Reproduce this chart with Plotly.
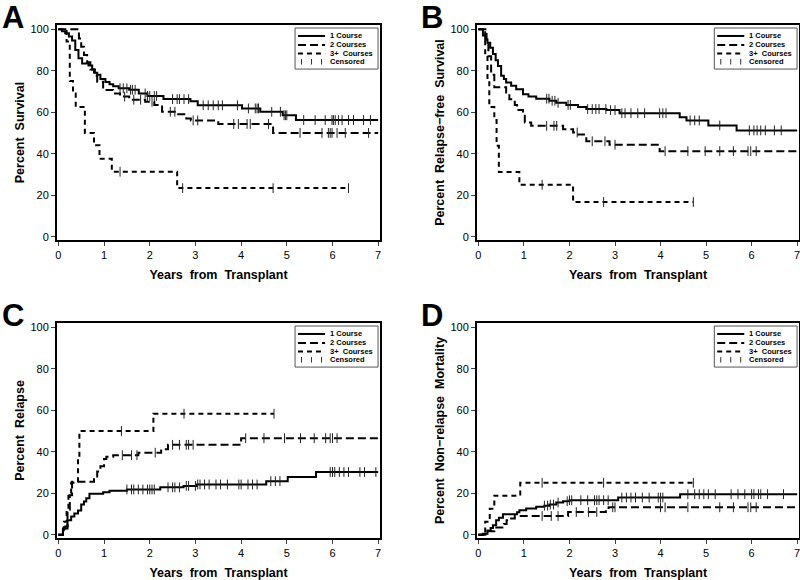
import numpy as np
import plotly.graph_objects as go

# ---- Panel A: overall survival ----
a1_t = [0, 0.08, 0.15, 0.23, 0.30, 0.37, 0.44, 0.52, 0.66, 0.74, 0.80, 0.85, 0.92, 1.03, 1.12, 1.20, 1.32,
        1.55, 1.76, 1.95, 2.30, 2.89, 3.05, 4.02, 4.42, 4.91, 5.20, 7.0]
a1_v = [100, 99, 98, 96.5, 94.5, 90, 86, 83.5, 82.5, 80.5, 79, 78, 76, 74.5, 73.5, 72.5, 71.5,
        70.8, 69, 67.8, 66.3, 65.2, 63.3, 61.8, 60.2, 58.5, 56.2, 56.2]
a1_c = [1.35, 1.42, 1.5, 1.58, 1.62, 1.68, 1.9, 1.95, 2.0, 2.1, 2.15, 2.5, 2.6, 2.65, 2.75, 2.85, 3.17, 3.28,
        3.39, 3.5, 3.59, 3.92, 4.16, 4.31, 4.35, 4.38, 4.67, 4.86, 4.94, 4.97, 5.0, 5.37, 5.62, 5.84, 5.99,
        6.02, 6.06, 6.13, 6.21, 6.35, 6.46, 6.68, 6.83]
a2_t = [0, 0.45, 0.5, 0.56, 0.63, 0.7, 0.78, 0.85, 0.98, 1.2, 1.35, 1.55, 1.9, 2.1, 2.27, 2.6, 2.8, 2.9,
        3.5, 4.7, 7.0]
a2_v = [100, 95.5, 91.5, 87.5, 84, 80.5, 77.5, 74.7, 70.7, 69, 67.5, 66, 65, 63.5, 60.2, 59, 57, 56,
        54.3, 50, 50]
a2_c = [1.45, 1.65, 1.8, 2.05, 2.45, 2.55, 2.95, 3.05, 3.84, 3.94, 4.13, 4.2, 4.6, 5.29, 5.77, 5.91, 5.95,
        5.99, 6.1, 6.28, 6.79]
a3_t = [0, 0.18, 0.25, 0.32, 0.38, 0.58, 0.78, 0.9, 1.17, 2.6, 6.35]
a3_v = [100, 94, 75, 69, 62.5, 50, 44, 37.5, 31.3, 23.4, 23.4]
a3_c = [1.35, 2.72, 4.7, 6.35]

# ---- Panel B: relapse-free survival ----
b1_t = [0, 0.1, 0.15, 0.2, 0.26, 0.32, 0.38, 0.43, 0.5, 0.56, 0.61, 0.72, 0.83, 0.98, 1.1, 1.27, 1.56,
        1.71, 1.93, 2.19, 2.37, 2.81, 3.1, 4.42, 4.57, 5.05, 5.67, 7.0]
b1_v = [100, 97, 95, 93.5, 91, 88, 85, 82.3, 77.5, 76, 74.3, 72.7, 71, 68.6, 67.5, 66.5, 65.5,
        64.5, 63.5, 62.5, 61.5, 61, 59.5, 57.5, 56, 53.6, 51.2, 51.2]
b1_c = [1.5, 1.55, 1.62, 1.68, 1.75, 1.97, 2.02, 2.4, 2.5, 2.58, 2.65, 2.8, 2.9, 3.0, 3.15, 3.22, 3.35,
        3.5, 3.65, 3.98, 4.05, 4.12, 4.65, 4.75, 4.85, 5.3, 5.95, 6.05, 6.12, 6.2, 6.3, 6.5, 6.65]
b2_t = [0, 0.18, 0.22, 0.28, 0.35, 0.61, 0.68, 0.8, 0.85, 0.98, 1.02, 1.16, 1.86, 2.08, 2.19, 2.37, 2.88,
        3.98, 7.0]
b2_v = [100, 95, 87, 78, 72, 69.5, 66.2, 63.5, 61, 59, 55, 53.4, 51.8, 50.2, 49.2, 46, 44.3, 41.2, 41.2]
b2_c = [1.5, 1.66, 1.72, 2.17, 2.5, 2.78, 3.0, 4.1, 4.6, 4.98, 5.3, 5.6, 5.92, 5.98, 6.1]
b3_t = [0, 0.15, 0.2, 0.24, 0.35, 0.4, 0.45, 0.9, 2.08, 4.72]
b3_v = [100, 87.5, 75, 62.5, 56.2, 43.8, 31.2, 25, 16.7, 16.7]
b3_c = [1.4, 2.75, 4.72]

# ---- Panel C: relapse ----
c1_t = [0, 0.1, 0.2, 0.28, 0.35, 0.43, 0.5, 0.56, 0.61, 0.68, 0.98, 1.12, 1.5, 2.23, 2.74, 3.03, 4.55,
        5.02, 5.64, 7.0]
c1_v = [0, 3, 7, 8.8, 10.2, 11.7, 14.5, 16, 17.5, 19.7, 20.5, 21.2, 21.8, 22.8, 23.5, 24.2, 25.8,
        27.8, 30.2, 30.2]
c1_c = [1.5, 1.6, 1.65, 1.75, 1.85, 1.95, 2.0, 2.05, 2.1, 2.4, 2.5, 2.55, 2.65, 2.8, 2.85, 3.0, 3.05,
        3.1, 3.2, 3.3, 3.45, 3.55, 3.7, 3.95, 4.0, 4.15, 4.25, 4.35, 4.65, 4.75, 4.85, 5.95, 6.0, 6.05,
        6.15, 6.25, 6.35, 6.6, 6.7, 6.95]
c2_t = [0, 0.1, 0.15, 0.2, 0.25, 0.3, 0.78, 0.85, 0.92, 1.0, 1.05, 1.2, 1.75, 2.25, 2.4, 4.0, 7.0]
c2_v = [0, 1.5, 4, 12, 19, 25.5, 27.5, 30.5, 33, 36.5, 37.5, 38.3, 39.5, 41.2, 43.3, 46.5, 46.5]
c2_c = [1.4, 1.6, 1.72, 2.12, 2.5, 2.65, 2.8, 2.85, 2.95, 4.1, 4.5, 4.95, 5.3, 5.6, 5.85, 5.95, 6.0, 6.1]
c3_t = [0, 0.12, 0.18, 0.22, 0.28, 0.43, 0.46, 2.08, 4.72]
c3_v = [0, 6.2, 12.5, 18.8, 25, 37.5, 50, 58.3, 58.3]
c3_c = [1.38, 2.75, 4.72]

# ---- Panel D: non-relapse mortality ----
d1_t = [0, 0.1, 0.2, 0.27, 0.32, 0.39, 0.45, 0.54, 0.85, 0.9, 1.05, 1.27, 1.45, 1.56, 1.71, 1.86, 2.0,
        3.07, 4.43, 7.0]
d1_v = [0, 0.5, 2, 3.2, 4.5, 7, 8.2, 9.8, 10.8, 11.8, 12.6, 13.4, 14, 14.5, 15.5, 16.1, 16.6,
        17.9, 19.5, 19.5]
d1_c = [1.45, 1.52, 1.58, 1.65, 1.75, 1.95, 2.0, 2.05, 2.25, 2.4, 2.55, 2.6, 2.65, 2.75, 2.85, 3.15,
        3.25, 3.35, 3.45, 3.6, 3.75, 3.95, 4.0, 4.05, 4.6, 4.75, 4.85, 4.95, 5.05, 5.2, 5.55, 5.7, 5.85,
        6.0, 6.05, 6.15, 6.2, 6.35, 6.7]
d2_t = [0, 0.2, 0.35, 0.5, 0.56, 0.62, 0.72, 0.8, 1.97, 2.8, 2.86, 7.0]
d2_v = [0, 1.7, 3.4, 3.4, 5.2, 6.9, 7.8, 9, 10.9, 12.1, 13.2, 13.2]
d2_c = [1.4, 1.6, 1.75, 2.15, 2.42, 2.6, 2.95, 3.0, 4.0, 4.1, 4.6, 5.3, 5.6, 5.92, 5.98, 6.1]
d3_t = [0, 0.15, 0.25, 0.35, 0.92, 4.72]
d3_v = [0, 6.2, 12.5, 18.8, 25, 25]
d3_c = [1.4, 2.75, 4.72]

group_names = ["1 Course", "2 Courses", "3+  Courses"]
panel_letters = ["A", "B", "C", "D"]
y_titles = ["Percent  Survival", "Percent  Relapse\u2212free  Survival",
            "Percent  Relapse", "Percent  Non\u2212relapse  Mortality"]
x_title = "Years  from  Transplant"

panels = [
    [(a1_t, a1_v, a1_c), (a2_t, a2_v, a2_c), (a3_t, a3_v, a3_c)],
    [(b1_t, b1_v, b1_c), (b2_t, b2_v, b2_c), (b3_t, b3_v, b3_c)],
    [(c1_t, c1_v, c1_c), (c2_t, c2_v, c2_c), (c3_t, c3_v, c3_c)],
    [(d1_t, d1_v, d1_c), (d2_t, d2_v, d2_c), (d3_t, d3_v, d3_c)],
]

dashes = ["solid", "8px,4px", "5px,4px"]
FONT = "Liberation Sans, Arial, sans-serif"

# panel frames in pixels (left, right, top, bottom) -> paper domains
W, H = 800, 580
frames = [(57, 380, 25, 240), (477, 799, 25, 240), (57, 380, 323, 538), (477, 799, 323, 538)]
letter_x = [0, 419, 0, 419]


def step_value(t, v, x):
    i = np.searchsorted(np.array(t), x, side="right") - 1
    return v[i]


fig = go.Figure()

for k, groups in enumerate(panels):
    n = "" if k == 0 else str(k + 1)
    for g, (t, v, c) in enumerate(groups):
        fig.add_trace(go.Scatter(x=t, y=v, mode="lines", line_shape="hv",
                                 line=dict(color="black", width=2, dash=dashes[g]),
                                 xaxis="x" + n, yaxis="y" + n, showlegend=False,
                                 name=group_names[g]))
        cy = [step_value(t, v, x) for x in c]
        fig.add_trace(go.Scatter(x=c, y=cy, mode="markers",
                                 marker=dict(symbol="line-ns", size=7,
                                             line=dict(width=1, color="#222")),
                                 xaxis="x" + n, yaxis="y" + n, showlegend=False,
                                 name="Censored"))

    l, r, top, bot = frames[k]
    xd = [l / W, r / W]
    yd = [1 - bot / H, 1 - top / H]
    fig.update_layout(**{
        "xaxis" + n: dict(domain=xd, anchor="y" + n, range=[-0.03, 7.04],
                          tickvals=list(range(8)), ticks="outside", ticklen=4,
                          showline=True, linewidth=2, linecolor="black", mirror=True,
                          showgrid=False, zeroline=False, automargin=False,
                          ticklabeloverflow="allow",
                          tickfont=dict(size=11, color="black"),
                          title=dict(text=x_title, standoff=10,
                                     font=dict(size=12.5, weight="bold", color="black"))),
        "yaxis" + n: dict(domain=yd, anchor="x" + n, range=[-1.6, 102],
                          tickvals=[0, 20, 40, 60, 80, 100], ticks="outside", ticklen=4,
                          showline=True, linewidth=2, linecolor="black", mirror=True,
                          showgrid=False, zeroline=False, automargin=False,
                          tickfont=dict(size=11, color="black"),
                          title=dict(text=y_titles[k], standoff=3,
                                     font=dict(size=12.5, weight="bold", color="black"))),
    })

    # panel letter
    fig.add_annotation(text="<b>" + panel_letters[k] + "</b>", xref="paper", yref="paper",
                       x=letter_x[k] / W, y=1 - (top - 25) / H,
                       xanchor="left", yanchor="top", yshift=2, showarrow=False,
                       font=dict(size=31, family=FONT, color="black"))

    # legend box drawn inside each panel
    xr, yr = "x" + n + " domain", "y" + n + " domain"
    fig.add_shape(type="rect", xref=xr, yref=yr, x0=0.737, x1=0.994, y0=0.795, y1=0.986,
                  line=dict(color="#555", width=1), fillcolor="white", layer="above")
    rows = [0.949, 0.907, 0.868, 0.829]
    for g in range(3):
        fig.add_shape(type="line", xref=xr, yref=yr, x0=0.746, x1=0.830, y0=rows[g], y1=rows[g],
                      line=dict(color="black", width=2, dash=dashes[g]), layer="above")
    for xx in [0.757, 0.788, 0.819]:
        fig.add_shape(type="line", xref=xr, yref=yr, x0=xx, x1=xx,
                      y0=rows[3] - 0.013, y1=rows[3] + 0.013,
                      line=dict(color="#333", width=1), layer="above")
    for g, label in enumerate(group_names + ["Censored"]):
        fig.add_annotation(text=label, xref=xr, yref=yr, x=0.839, y=rows[g],
                           xanchor="left", yanchor="middle", showarrow=False,
                           font=dict(size=7.5, family=FONT, color="black", weight="bold"))

fig.update_layout(width=W, height=H, margin=dict(l=0, r=0, t=0, b=0),
                  plot_bgcolor="white", paper_bgcolor="white",
                  font=dict(family=FONT, color="black"), showlegend=False)

fig.write_html("out.html", config={"displayModeBar": False},
               post_script="document.body.style.margin='0px';")
